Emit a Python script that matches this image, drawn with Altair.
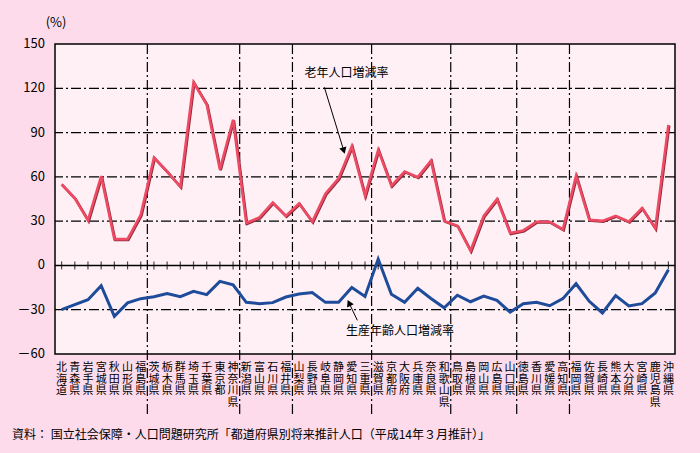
import altair as alt
import pandas as pd

prefs = ["北海道", "青森県", "岩手県", "宮城県", "秋田県", "山形県", "福島県",
         "茨城県", "栃木県", "群馬県", "埼玉県", "千葉県", "東京都", "神奈川県",
         "新潟県", "富山県", "石川県", "福井県",
         "山梨県", "長野県", "岐阜県", "静岡県", "愛知県", "三重県",
         "滋賀県", "京都府", "大阪府", "兵庫県", "奈良県", "和歌山県",
         "鳥取県", "島根県", "岡山県", "広島県", "山口県",
         "徳島県", "香川県", "愛媛県", "高知県",
         "福岡県", "佐賀県", "長崎県", "熊本県", "大分県", "宮崎県", "鹿児島県", "沖縄県"]

elderly = [55, 45.5, 30.5, 60.5, 17.8, 17.8, 34.3,
           73, 63.5, 53.3, 124, 109, 65, 98.7,
           28.7, 32.5, 42.5, 33.6,
           42, 29.6, 48.5, 59, 80.7, 47.2,
           78.3, 53.9, 63.6, 59.8, 71, 30.2,
           26.9, 9.9, 33.6, 44.9, 21.9,
           23.7, 29.6, 29.6, 24.4,
           60.7, 30.9, 30.2, 33.6, 29.6, 38.8, 25.1, 95.2]

working = [-30, -26.6, -23.2, -13.7, -34.5, -25.4, -22.5,
           -21.2, -19.1, -21.2, -17.6, -19.8, -10.8, -13.1,
           -25, -25.9, -25.2, -21.4,
           -19.4, -18.3, -25, -25, -15, -21,
           4.3, -19.5, -25, -15.5, -22.4, -28.7,
           -20.2, -24.6, -20.8, -23.7, -31.6,
           -25.9, -25, -27.3, -22.5,
           -12.4, -24.3, -32.2, -20.5, -27.5, -25.9, -18.7, -2.9]

region_bounds = [6.5, 13.5, 17.5, 23.5, 29.5, 34.5, 38.5]
y_ticks = [150, 120, 90, 60, 30, 0, -30, -60]
y_tick_labels = ["150", "120", "90", "60", "30", "0", "－30", "－60"]
grid_values = [-30, 30, 60, 90, 120]

label_elderly = "老年人口増減率"
label_working = "生産年齢人口増減率"
source_text = "資料： 国立社会保障・人口問題研究所「都道府県別将来推計人口（平成14年３月推計）」"

FONT = "Noto Sans CJK JP"
W, H = 620, 310
RED = "#EE4A63"
RED_SH = "#8E2A3C"
BLUE = "#1E4C9A"
DASH = [10, 3, 2, 3]

df = pd.DataFrame({
    "idx": list(range(len(prefs))),
    "pref": prefs,
    "elderly": elderly,
    "working": working,
    "label": ["\n".join(p) for p in prefs],
    "zero": [0] * len(prefs),
})

xs = alt.Scale(domain=[-0.5, len(prefs) - 0.5], nice=False, zero=False)
ys = alt.Scale(domain=[-60, 150], nice=False, zero=False)

hgrid = alt.Chart(pd.DataFrame({"v": grid_values})).mark_rule(
    color="black", strokeWidth=1.2, strokeDash=DASH
).encode(y=alt.Y("v:Q", scale=ys, axis=None))

ylabels = alt.Chart(pd.DataFrame({"v": y_ticks, "t": y_tick_labels})).mark_text(
    fontSize=13, font=FONT, color="black", align="right", baseline="middle"
).encode(
    x=alt.value(-10),
    y=alt.Y("v:Q", scale=ys, axis=None),
    text="t:N"
)

vgrid = alt.Chart(pd.DataFrame({"b": region_bounds})).mark_rule(
    color="black", strokeWidth=1.2, strokeDash=DASH, clip=False
).encode(
    x=alt.X("b:Q", scale=xs, axis=None),
    y=alt.value(0), y2=alt.value(372)
)

zero_line = alt.Chart(pd.DataFrame({"v": [0]})).mark_rule(
    color="black", strokeWidth=1.5
).encode(y=alt.Y("v:Q", scale=ys, axis=None))

ticks = alt.Chart(df).mark_tick(
    orient="vertical", color="black", size=8, thickness=1.2
).encode(
    x=alt.X("idx:Q", scale=xs, axis=None),
    y=alt.Y("zero:Q", scale=ys, axis=None)
)

eld_shadow = alt.Chart(df).mark_line(
    color=RED_SH, strokeWidth=2.6, xOffset=0.8, yOffset=0.8
).encode(x=alt.X("idx:Q", scale=xs, axis=None),
         y=alt.Y("elderly:Q", scale=ys, axis=None))
eld_line = alt.Chart(df).mark_line(color=RED, strokeWidth=2.6).encode(
    x=alt.X("idx:Q", scale=xs, axis=None),
    y=alt.Y("elderly:Q", scale=ys, axis=None))

wrk_line = alt.Chart(df).mark_line(color=BLUE, strokeWidth=3).encode(
    x=alt.X("idx:Q", scale=xs, axis=None),
    y=alt.Y("working:Q", scale=ys, axis=None))

xlabels = alt.Chart(df).mark_text(
    baseline="top", align="center", lineBreak="\n", fontSize=11,
    lineHeight=11.5, font=FONT, color="black"
).encode(
    x=alt.X("idx:Q", scale=xs, axis=None),
    y=alt.value(318),
    text="label:N"
)

ann_text = pd.DataFrame({
    "x": [21.6, 25.66],
    "y": [130.4, -44.2],
    "t": [label_elderly, label_working],
})
ann = alt.Chart(ann_text).mark_text(
    fontSize=12, font=FONT, color="black", align="center", baseline="middle"
).encode(
    x=alt.X("x:Q", scale=xs, axis=None),
    y=alt.Y("y:Q", scale=ys, axis=None),
    text="t:N"
)

arrows = pd.DataFrame({
    "x": [19.92, 22.42], "y": [120.7, -37.2],
    "x2": [21.39, 21.79], "y2": [77.8, -25.4],
    "ang": [163, 334],
})
arrow_lines = alt.Chart(arrows).mark_rule(color="black", strokeWidth=1).encode(
    x=alt.X("x:Q", scale=xs, axis=None), y=alt.Y("y:Q", scale=ys, axis=None),
    x2="x2:Q", y2="y2:Q")
arrow_heads = alt.Chart(arrows).mark_point(
    shape="triangle-up", filled=True, color="black", size=55, opacity=1
).encode(
    x=alt.X("x2:Q", scale=xs, axis=None), y=alt.Y("y2:Q", scale=ys, axis=None),
    angle=alt.Angle("ang:Q", scale=None))

pct = alt.Chart(pd.DataFrame({"t": ["(%)"]})).mark_text(
    fontSize=13, font=FONT, color="black", align="center", baseline="middle"
).encode(x=alt.value(1), y=alt.value(-21), text="t:N")

src = alt.Chart(pd.DataFrame({"t": [source_text]})).mark_text(
    fontSize=12, font=FONT, color="black", align="left", baseline="middle"
).encode(x=alt.value(-43), y=alt.value(391), text="t:N")

chart = alt.layer(
    hgrid, vgrid, zero_line, ticks, eld_shadow, eld_line, wrk_line,
    ylabels, xlabels, ann, arrow_lines, arrow_heads, pct, src
).properties(
    width=W, height=H,
    padding={"left": 55, "top": 44, "right": 25, "bottom": 99},
    autosize=alt.AutoSizeParams(type="none"),
    background="#FDDBEA",
).configure_view(
    fill="#FFF0F6", stroke="black", strokeWidth=1.5
)

chart.save("out.html", embed_options={"renderer": "svg", "actions": False})
